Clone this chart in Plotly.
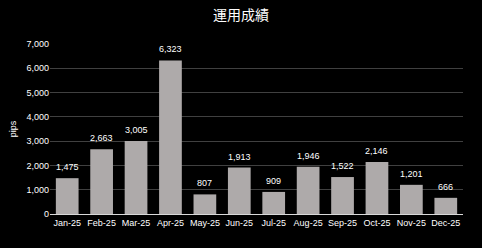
import plotly.graph_objects as go

months = ["Jan-25", "Feb-25", "Mar-25", "Apr-25", "May-25", "Jun-25",
          "Jul-25", "Aug-25", "Sep-25", "Oct-25", "Nov-25", "Dec-25"]
pips = [1475, 2663, 3005, 6323, 807, 1913, 909, 1946, 1522, 2146, 1201, 666]
y_ticks = [0, 1000, 2000, 3000, 4000, 5000, 6000, 7000]
y_tick_text = ["0", "1,000", "2,000", "3,000", "4,000", "5,000", "6,000", "7,000"]
title_text = "運用成績"
y_title = "pips"

font_main = "Liberation Sans, DejaVu Sans, sans-serif"

fig = go.Figure()
fig.add_trace(go.Bar(
    x=months, y=pips,
    marker=dict(color="#AEAAAA", line=dict(width=0)),
))

for m, v in zip(months, pips):
    fig.add_annotation(x=m, y=v, text=f"{v:,}", showarrow=False,
                       yanchor="bottom", yshift=4,
                       font=dict(color="#FFFFFF", size=9, family=font_main))

fig.update_layout(
    width=482, height=248,
    margin=dict(l=48, r=19, t=44, b=34),
    paper_bgcolor="#000000", plot_bgcolor="#000000",
    bargap=0.34,
    showlegend=False,
    title=dict(text=title_text, x=0.5, xanchor="center", y=1 - 15 / 248, yanchor="middle",
               font=dict(family="Noto Sans CJK JP", size=14, color="#FFFFFF")),
    xaxis=dict(
        showgrid=False, showline=True, linecolor="#D9D9D9", linewidth=1,
        ticks="", tickfont=dict(color="#FFFFFF", size=9, family=font_main),
    ),
    yaxis=dict(
        range=[0, 7000], tickvals=y_ticks, ticktext=y_tick_text,
        showgrid=True, gridcolor="#404040", gridwidth=1,
        zeroline=False, showline=False, ticks="",
        tickfont=dict(color="#FFFFFF", size=9, family=font_main),
        title=dict(text=y_title, font=dict(color="#FFFFFF", size=9, family=font_main), standoff=8),
    ),
)

fig.write_html("out.html")
